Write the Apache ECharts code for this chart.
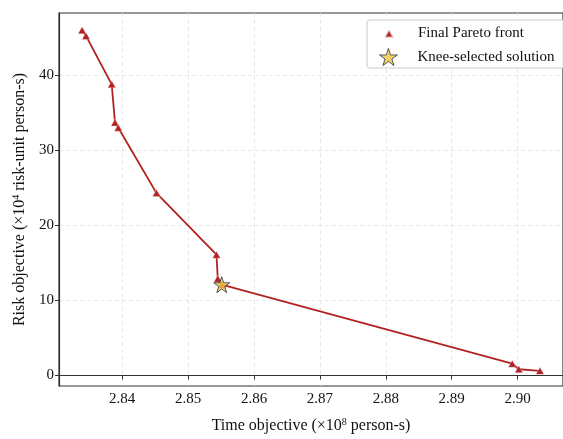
<!DOCTYPE html>
<html>
<head>
<meta charset="utf-8">
<script src="https://cdn.jsdelivr.net/npm/echarts@6/dist/echarts.min.js"></script>
<style>
  html, body { margin: 0; padding: 0; background: #fff; }
  #chart { width: 563px; height: 439px; }
</style>
</head>
<body>
<div id="chart"></div>
<script>
// Pareto front points (time ×1e8 person-s, risk ×1e4 risk-unit person-s)
const timeVals = [2.8339, 2.8345, 2.8384, 2.8389, 2.8394, 2.8452, 2.8543, 2.8545, 2.8551, 2.8992, 2.9002, 2.9034];
const riskVals = [46.0, 45.25, 38.8, 33.7, 33.0, 24.3, 16.1, 12.9, 12.1, 1.57, 0.83, 0.62];
const kneeTime = [2.8551];
const kneeRisk = [12.1];
const xTicks = [2.84, 2.85, 2.86, 2.87, 2.88, 2.89, 2.90];
const yTicks = [0, 10, 20, 30, 40];

const FONT = '"Liberation Serif", "DejaVu Serif", serif';
const RED = '#b22222';
const STAR = 'path://M50,0 L61.8,36.2 L100,36.2 L69.1,58.6 L80.9,95.1 L50,72.6 L19.1,95.1 L30.9,58.6 L0,36.2 L38.2,36.2 Z';

const chart = echarts.init(document.getElementById('chart'));

const options = {
  animation: false,
  backgroundColor: '#fff',
  grid: {
    left: 59,
    top: 13,
    width: 515,
    bottom: 46,
    show: true,
    borderColor: '#333',
    borderWidth: 1.2,
  },
  graphic: [
    {
      type: 'rect',
      shape: { x: 367, y: 20, width: 240, height: 48, r: 3 },
      style: { fill: 'rgba(255,255,255,0.85)', stroke: '#cccccc', lineWidth: 1 },
      z: 5,
    },
  ],
  legend: [
    {
      data: [{ name: 'Final Pareto front', icon: 'triangle' }],
      left: 383.5,
      top: 26,
      padding: 0,
      itemWidth: 9,
      itemHeight: 8,
      z: 10,
      textStyle: { fontFamily: FONT, fontSize: 15, color: '#111', padding: [0, 0, 0, 19.5] },
    },
    {
      data: [{
        name: 'Knee-selected solution',
        icon: STAR,
        itemStyle: { color: '#f4c542', borderColor: '#283447', borderWidth: 1 },
      }],
      left: 379,
      top: 48,
      padding: 0,
      itemWidth: 18,
      itemHeight: 17,
      z: 10,
      textStyle: { fontFamily: FONT, fontSize: 15, color: '#111', padding: [0, 0, 0, 15] },
    },
  ],
  xAxis: {
    type: 'value',
    min: 2.8304,
    max: 2.9069,
    name: '{a|Time objective (\u00d710}{s|8}{a| person-s)}',
    nameLocation: 'middle',
    nameGap: 31,
    nameTextStyle: {
      rich: {
        a: { fontFamily: FONT, fontSize: 16, color: '#111', lineHeight: 18 },
        s: { fontFamily: FONT, fontSize: 10, color: '#111', verticalAlign: 'top', lineHeight: 18 },
      },
    },
    axisLine: { show: true, lineStyle: { color: '#333', width: 1.2 } },
    axisTick: { show: true, inside: false, length: 4, customValues: xTicks, lineStyle: { color: '#333' } },
    axisLabel: {
      customValues: xTicks,
      formatter: (v) => v.toFixed(2),
      fontFamily: FONT,
      fontSize: 15,
      color: '#111',
      margin: 6,
    },
    splitLine: { show: true, lineStyle: { color: '#e2e2e2', type: [4, 3], width: 0.8 } },
  },
  yAxis: {
    type: 'value',
    min: -1.4,
    max: 48.3,
    name: '{a|Risk objective (\u00d710}{s|4}{a| risk-unit person-s)}',
    nameLocation: 'middle',
    nameGap: 27,
    nameTextStyle: {
      rich: {
        a: { fontFamily: FONT, fontSize: 16, color: '#111', lineHeight: 18 },
        s: { fontFamily: FONT, fontSize: 10, color: '#111', verticalAlign: 'top', lineHeight: 18 },
      },
    },
    axisLine: { show: true, lineStyle: { color: '#333', width: 1.2 } },
    axisTick: { show: true, inside: false, length: 4, customValues: yTicks, lineStyle: { color: '#333' } },
    axisLabel: {
      customValues: yTicks,
      fontFamily: FONT,
      fontSize: 15,
      color: '#111',
      margin: 5,
    },
    splitLine: { show: true, lineStyle: { color: '#e2e2e2', type: [4, 3], width: 0.8 } },
  },
  series: [
    {
      name: 'Final Pareto front',
      type: 'line',
      data: timeVals.map((t, i) => [t, riskVals[i]]),
      symbol: 'triangle',
      symbolSize: [8, 7],
      showAllSymbol: true,
      lineStyle: { color: RED, width: 1.8 },
      itemStyle: { color: RED, borderColor: 'rgba(255,255,255,0.6)', borderWidth: 0.5 },
      z: 3,
    },
    {
      name: 'Knee-selected solution',
      type: 'scatter',
      data: kneeTime.map((t, i) => [t, kneeRisk[i]]),
      symbol: STAR,
      symbolSize: 16,
      itemStyle: { color: '#f4c542', borderColor: '#283447', borderWidth: 1 },
      z: 4,
    },
  ],
};

chart.setOption(options);
</script>
</body>
</html>
